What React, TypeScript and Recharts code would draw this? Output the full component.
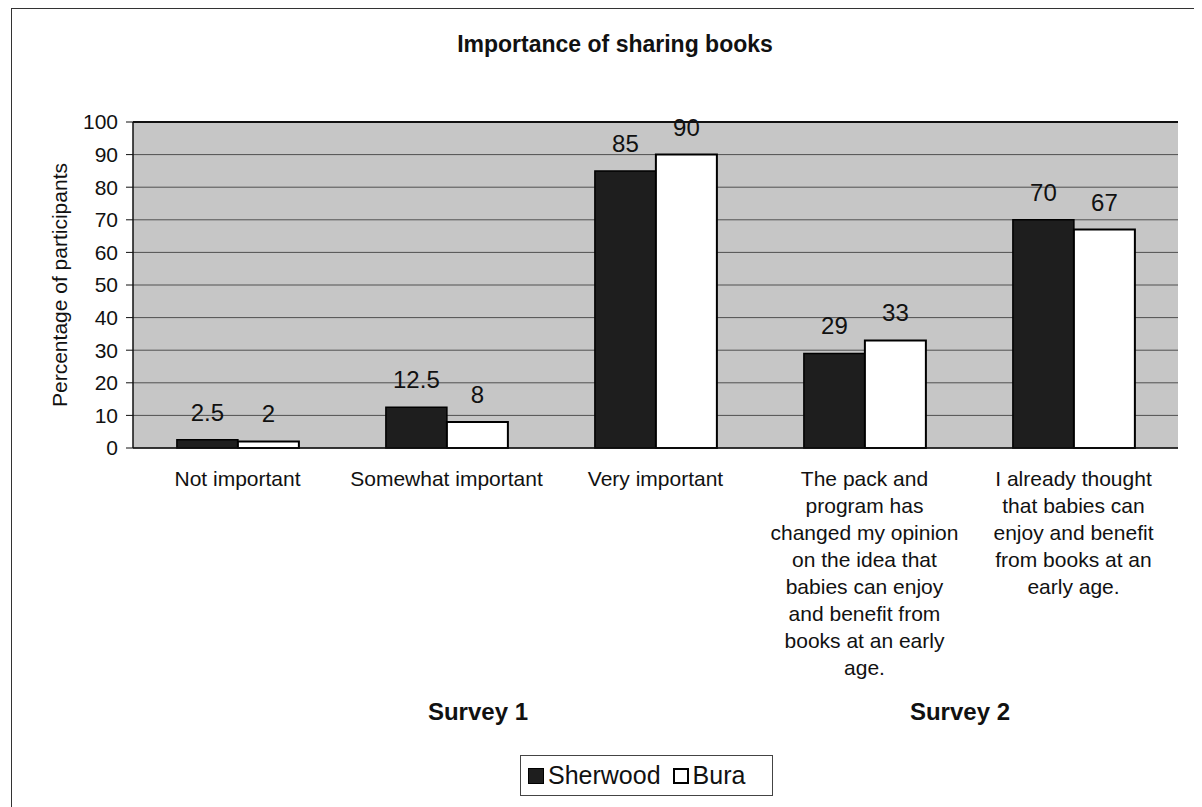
import { Bar, BarChart, CartesianGrid, LabelList, ReferenceLine, XAxis, YAxis } from "recharts";

const categories = [
  "Not important",
  "Somewhat important",
  "Very important",
  "The pack and\nprogram has\nchanged my opinion\non the idea that\nbabies can enjoy\nand benefit from\nbooks at an early\nage.",
  "I already thought\nthat babies can\nenjoy and benefit\nfrom books at an\nearly age.",
];
const sherwood = [2.5, 12.5, 85, 29, 70];
const bura = [2, 8, 90, 33, 67];
const yTicks = [0, 10, 20, 30, 40, 50, 60, 70, 80, 90, 100];
const edgeTicks = [0, 1, 2, 3, 4, 5];

const data = categories.map((name, i) => ({ name, sherwood: sherwood[i], bura: bura[i] }));

const FONT = '"Liberation Sans", Arial, sans-serif';

function CategoryTick({ x, y, payload }: any) {
  const lines = String(payload.value).split("\n");
  return (
    <text x={x} y={y + 30} textAnchor="middle" fontSize={21} fill="#111" fontFamily={FONT}>
      {lines.map((line, i) => (
        <tspan key={i} x={x} dy={i === 0 ? 0 : 27}>
          {line}
        </tspan>
      ))}
    </text>
  );
}

function YLabel({ viewBox }: any) {
  const cx = viewBox.x + 17;
  const cy = viewBox.y + viewBox.height / 2;
  return (
    <text
      x={cx}
      y={cy}
      transform={`rotate(-90 ${cx} ${cy})`}
      textAnchor="middle"
      dominantBaseline="central"
      fontSize={21}
      fill="#111"
      fontFamily={FONT}
    >
      Percentage of participants
    </text>
  );
}

export default function App() {
  return (
    <div
      style={{
        position: "relative",
        marginLeft: 3,
        width: 1184,
        height: 812,
        border: "1px solid #333",
        boxSizing: "border-box",
        background: "#fff",
        fontFamily: FONT,
        color: "#111",
      }}
    >
      <div
        style={{
          position: "absolute",
          top: 24,
          left: 0,
          width: 1184,
          textAlign: "center",
          fontSize: 23,
          lineHeight: "23px",
          fontWeight: "bold",
          paddingLeft: 22,
          boxSizing: "border-box",
        }}
      >
        Importance of sharing books
      </div>

      <BarChart
        width={1182}
        height={700}
        data={data}
        margin={{ top: 113, right: 16, bottom: 0, left: 30 }}
        barGap={0}
        barCategoryGap="21%"
      >
        <CartesianGrid vertical={false} fill="#c6c6c6" stroke="#505050" strokeWidth={1} />
        <XAxis
          xAxisId="edges"
          type="number"
          domain={[0, 5]}
          ticks={edgeTicks}
          tick={false}
          tickSize={7}
          tickLine={{ stroke: "#111" }}
          axisLine={false}
          height={0}
        />
        <XAxis
          dataKey="name"
          interval={0}
          tickLine={false}
          axisLine={{ stroke: "#111", strokeWidth: 1.5 }}
          tick={<CategoryTick />}
          height={261}
        />
        <YAxis
          domain={[0, 100]}
          ticks={yTicks}
          interval={0}
          width={91}
          tickSize={7}
          tickMargin={8}
          tickLine={{ stroke: "#111" }}
          axisLine={{ stroke: "#111", strokeWidth: 1.5 }}
          tick={{ fontSize: 21, fill: "#111", fontFamily: FONT }}
          label={<YLabel />}
        />
        <YAxis
          yAxisId="right"
          orientation="right"
          domain={[0, 100]}
          width={0}
          tick={false}
          tickLine={false}
          axisLine={{ stroke: "#111", strokeWidth: 1.5 }}
        />
        <ReferenceLine y={100} stroke="#111" strokeWidth={2} />
        <Bar dataKey="sherwood" fill="#1e1e1e" stroke="#000" strokeWidth={1.5} isAnimationActive={false}>
          <LabelList dataKey="sherwood" position="top" offset={19} fontSize={24} fill="#111" fontFamily={FONT} />
        </Bar>
        <Bar dataKey="bura" fill="#ffffff" stroke="#000" strokeWidth={2} isAnimationActive={false}>
          <LabelList dataKey="bura" position="top" offset={19} fontSize={24} fill="#111" fontFamily={FONT} />
        </Bar>
      </BarChart>

      <div
        style={{
          position: "absolute",
          top: 691,
          left: 414,
          width: 104,
          textAlign: "center",
          fontSize: 24,
          lineHeight: "24px",
          fontWeight: "bold",
          whiteSpace: "nowrap",
        }}
      >
        Survey 1
      </div>
      <div
        style={{
          position: "absolute",
          top: 691,
          left: 896,
          width: 104,
          textAlign: "center",
          fontSize: 24,
          lineHeight: "24px",
          fontWeight: "bold",
          whiteSpace: "nowrap",
        }}
      >
        Survey 2
      </div>

      <div
        style={{
          position: "absolute",
          top: 746,
          left: 508,
          width: 253,
          height: 41,
          border: "1px solid #444",
          boxSizing: "border-box",
          display: "flex",
          alignItems: "center",
          paddingLeft: 7,
          fontSize: 25,
          gap: 12,
        }}
      >
        <span style={{ display: "flex", alignItems: "center", gap: 4 }}>
          <span style={{ width: 16, height: 16, background: "#1e1e1e", border: "1px solid #000", boxSizing: "border-box" }} />
          Sherwood
        </span>
        <span style={{ display: "flex", alignItems: "center", gap: 4 }}>
          <span style={{ width: 16, height: 16, background: "#fff", border: "2px solid #000", boxSizing: "border-box" }} />
          Bura
        </span>
      </div>
    </div>
  );
}
